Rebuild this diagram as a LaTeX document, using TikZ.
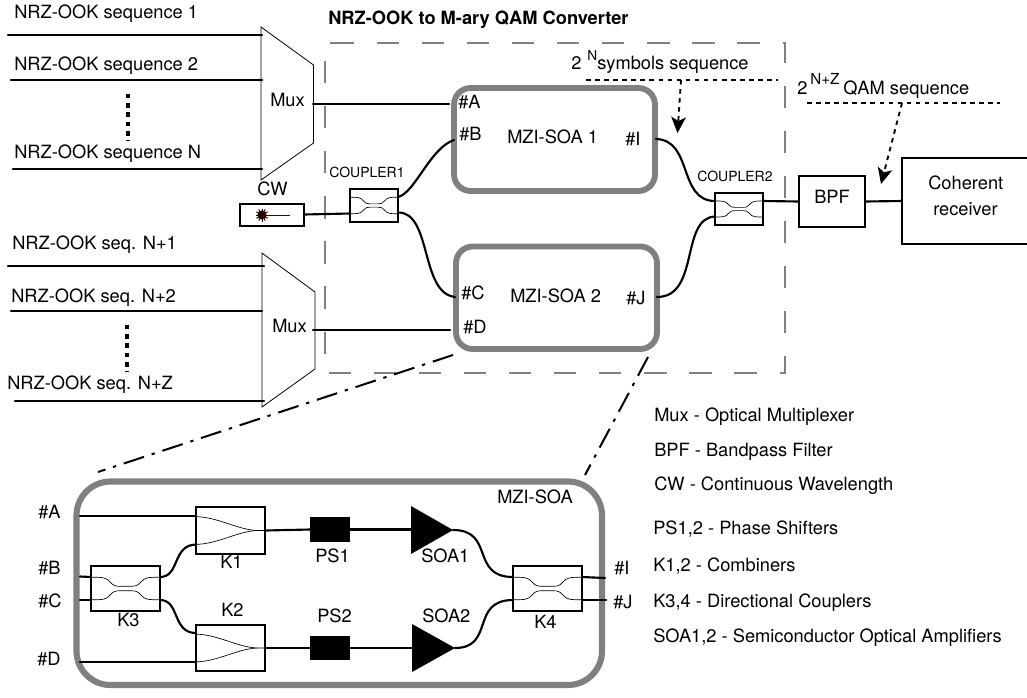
\documentclass[tikz,border=0pt]{standalone}
\usepackage{fontspec}
\setmainfont{TeX Gyre Heros}
\usetikzlibrary{arrows.meta}
\definecolor{frame}{gray}{0.5}
\newcommand{\fs}[1]{\fontsize{#1}{#1}\selectfont}
\newcommand{\dcoupler}[3]{%
  \begin{scope}[shift={(#1.center)},xscale=#2,yscale=#3,inner]
    \draw (-.5,-.25) .. controls (-.33,-.25) and (-.28,-.25) .. (-.22,-.14) .. controls (-.18,-.06) and (-.14,-.05) .. (-.08,-.05) -- (.08,-.05) .. controls (.14,-.05) and (.18,-.06) .. (.22,-.14) .. controls (.28,-.25) and (.33,-.25) .. (.5,-.25);
    \draw (-.5,.25) .. controls (-.33,.25) and (-.28,.25) .. (-.22,.14) .. controls (-.18,.06) and (-.14,.05) .. (-.08,.05) -- (.08,.05) .. controls (.14,.05) and (.18,.06) .. (.22,.14) .. controls (.28,.25) and (.33,.25) .. (.5,.25);
  \end{scope}}
\newcommand{\combiner}[1]{%
  \begin{scope}[shift={(#1.center)},xscale=69,yscale=46,inner]
    \draw (-.5,-.3) .. controls (-.2,-.3) and (.1,-.02) .. (.38,0) -- (.5,0);
    \draw (-.5,.3) .. controls (-.2,.3) and (.1,.02) .. (.38,0);
  \end{scope}}
\tikzset{
  x=0.75pt,y=-0.75pt,
  inner/.style={line width=0.5pt},
  fiber/.style={line width=1.6pt,line cap=round},
  boxn/.style={draw,line width=1.6pt,inner sep=0,outer sep=0,fill=white},
  soabox/.style={draw=frame,line width=4.4pt,rounded corners=12.5pt},
  mux/.style={draw=black,line width=0.6pt},
  lbl/.style={anchor=base west,inner sep=0,font=\fs{13.7}},
  small/.style={anchor=base west,inner sep=0,font=\fs{10.5}},
  ink/.style={fill=black,draw=none,inner sep=0,outer sep=0},
  note/.style={line width=1.4pt,dash pattern=on 3.4pt off 3.4pt},
  ddot/.style={line width=3pt,dash pattern=on 3.5pt off 3.5pt},
  ddash/.style={line width=1.5pt,dash pattern=on 16pt off 6pt on 2.5pt off 6pt},
}
\begin{document}
\begin{tikzpicture}
\useasboundingbox (0,0) rectangle (1027,697);
% dashed converter frame
\node[inner sep=0,outer sep=0,minimum width=460*0.75pt,minimum height=330*0.75pt] (conv) at (555,208) {};
\draw[draw=frame,line width=1.6pt,dash pattern=on 16.7pt off 17.12pt] ([xshift=6.6*0.75pt]conv.north west) -- (conv.north east) -- (conv.south east) -- (conv.south west) -- (conv.north west) -- ([xshift=6.6*0.75pt]conv.north west);
% muxes
\draw[mux] (261,27) coordinate (m1a) -- (313.5,65) -- (313.5,143) -- (261,180) coordinate (m1b) -- cycle;
\draw[mux] (262,253) coordinate (m2a) -- (315,292) -- (315,369) -- (262,407) coordinate (m2b) -- cycle;
\coordinate (m1o) at (313,104);
\coordinate (m2o) at (313,330);
% input coordinates
\foreach \n/\xa/\ya/\xb in {i1/8/35/262,i2/11/80/262,i3/13/169/262,i4/8/266/264,i5/11/311/262,i6/15/401/264}{
  \coordinate (\n a) at (\xa,\ya); \coordinate (\n b) at (\xb,\ya);
  \draw[fiber] (\n a) -- (\n b);
}
\coordinate (d1a) at (128,93.5); \coordinate (d1b) at (128,141);
\coordinate (d2a) at (127,324.5); \coordinate (d2b) at (127,372);
\draw[ddot] (d1a) -- (d1b);
\draw[ddot] (d2a) -- (d2b);
\node[lbl] (t1) at (14,18) {NRZ-OOK sequence 1};
\node[lbl] (t2) at (14,70) {NRZ-OOK sequence 2};
\node[lbl] (t3) at (14,158) {NRZ-OOK sequence N};
\node[lbl] (t4) at (12,249) {NRZ-OOK seq. N+1};
\node[lbl] (t5) at (11,302) {NRZ-OOK seq. N+2};
\node[lbl] (t6) at (7,389) {NRZ-OOK seq. N+Z};
\node[lbl] (mx1) at (270,106) {Mux};
\node[lbl] (mx2) at (272,332) {Mux};
% MZI blocks
\draw[soabox] (454,88) rectangle (655,191);
\draw[soabox] (456,246.5) rectangle (657,349);
\node[lbl] (sa) at (507,143) {MZI-SOA 1};
\node[lbl] (sb) at (510,302) {MZI-SOA 2};
\node[lbl] (pa) at (458,108) {\#A};
\node[lbl] (pb) at (459,140) {\#B};
\node[lbl] (pi) at (625,145) {\#I};
\node[lbl] (pc) at (461,299) {\#C};
\node[lbl] (pd) at (463,333) {\#D};
\node[lbl] (pj) at (626,304) {\#J};
\coordinate (ma) at (449,104); \coordinate (mb) at (454,140); \coordinate (mi) at (656,139);
\coordinate (mc) at (455,297); \coordinate (md) at (450,330); \coordinate (mj) at (657,297);
% couplers and CW
\node[boxn,minimum width=48*0.75pt,minimum height=33*0.75pt] (c1) at (374,205.5) {};
\node[boxn,minimum width=48*0.75pt,minimum height=32*0.75pt] (c2) at (739,209) {};
\dcoupler{c1}{48}{33}
\dcoupler{c2}{48}{32}
\node[small] (c1l) at (329,177) {COUPLER1};
\node[small] (c2l) at (697,181) {COUPLER2};
\node[boxn,minimum width=64*0.75pt,minimum height=22*0.75pt] (cw) at (272,215) {};
\node[lbl] (cwl) at (257,195) {CW};
\node[inner sep=0,text width=0pt] (laser) at (262,215) {};
\foreach \a in {0,30,...,330}{\draw[line width=0.7pt,black!85!red] (262,215) -- +(\a:6.5);}
\fill[black!85!red] (262,215) circle[radius=4.6];
\draw[line width=0.5pt,black!70!red] (laser.center) -- (290,215);
\coordinate (cwo) at (304,214.5); \coordinate (c1i) at (350,213.5);
\coordinate (c1a) at (398,197); \coordinate (c1b) at (398,212.5);
\coordinate (c2a) at (715,201); \coordinate (c2b) at (715,216.5);
\coordinate (c2o) at (763,201);
\draw[fiber] (cwo) -- (c1i);
\draw[fiber] (m1o) -- (ma);
\draw[fiber] (m2o) -- (md);
\draw[fiber] (c1a) .. controls (415,193) and (430,148) .. (mb);
\draw[fiber] (c1b) .. controls (432,212) and (420,293) .. (mc);
\draw[fiber] (mi) .. controls (693,140) and (678,201) .. (c2a);
\draw[fiber] (mj) .. controls (700,297) and (680,218) .. (c2b);
% output
\node[boxn,minimum width=66*0.75pt,minimum height=51*0.75pt] (bpf) at (832,201.5) {};
\node[lbl] (bpft) at (814,203) {BPF};
\node[boxn,minimum width=140*0.75pt,minimum height=86*0.75pt] (rx) at (972,201) {};
\node[lbl] (rxa) at (928,189) {Coherent};
\node[lbl] (rxb) at (933,215) {receiver};
\draw[fiber] (c2o) -- (bpf.west);
\draw[fiber] (bpf.east) -- (rx.west);
% annotations
\node[lbl] (n1) at (571,69) {2};
\node[anchor=base west,inner sep=0,font=\fs{10.3}] (n1s) at (587,60) {N};
\node[lbl] (n1t) at (597,69) {symbols sequence};
\node[lbl] (n2) at (797,94) {2};
\node[anchor=base west,inner sep=0,font=\fs{11.4}] (n2s) at (810,84) {N+Z};
\node[lbl] (n2t) at (843,94) {QAM sequence};
\coordinate (u1a) at (586,80); \coordinate (u1b) at (778,80); \coordinate (u1m) at (681,80); \coordinate (u1t) at (677.5,133);
\coordinate (u2a) at (807,103); \coordinate (u2b) at (1000,103); \coordinate (u2m) at (902,103); \coordinate (u2t) at (881,184);
\draw[note] (u1a) -- (u1b);
\draw[note] (u2a) -- (u2b);
\draw[note,-{Stealth[length=12pt,width=11pt,inset=3pt]}] (u1m) -- (u1t);
\draw[note,-{Stealth[length=12pt,width=11pt,inset=3pt]}] (u2m) -- (u2t);
\node[anchor=base west,inner sep=0,font=\bfseries\fs{13.7}] (title) at (328,24) {NRZ-OOK to M-ary QAM Converter};
% zoom lines
\coordinate (z1a) at (453,355); \coordinate (z1b) at (98,472);
\coordinate (z2a) at (648,357); \coordinate (z2b) at (585,475);
\draw[ddash] (z1a) -- (z1b);
\draw[ddash] (z2a) -- (z2b);
% detailed MZI-SOA
\draw[draw=frame,line width=4.6pt,rounded corners=25.5pt] (76.5,481.5) rectangle (602,685);
\node[lbl] (mz) at (497,503) {MZI-SOA};
\node[boxn,minimum width=69*0.75pt,minimum height=47*0.75pt] (k1) at (230.5,530.5) {};
\node[boxn,minimum width=69*0.75pt,minimum height=46*0.75pt] (k2) at (230.5,648) {};
\node[boxn,minimum width=69*0.75pt,minimum height=45*0.75pt] (k3) at (125.5,588.5) {};
\node[boxn,minimum width=69*0.75pt,minimum height=45*0.75pt] (k4) at (547.5,588.5) {};
\combiner{k1}
\combiner{k2}
\dcoupler{k3}{69}{45}
\dcoupler{k4}{69}{45}
\node[ink,minimum width=40*0.75pt,minimum height=25*0.75pt] (ps1) at (330,529.5) {};
\node[ink,minimum width=40*0.75pt,minimum height=24*0.75pt] (ps2) at (330,648) {};
\draw[fill=black,draw=none] (411,506) coordinate (s1a) -- (453,530) coordinate (s1o) -- (411,554) -- cycle;
\draw[fill=black,draw=none] (412,624) coordinate (s2a) -- (455,648) coordinate (s2o) -- (412,672) -- cycle;
\node[lbl] (lk1) at (220,568) {K1};
\node[lbl] (lk2) at (221,616) {K2};
\node[lbl] (lk3) at (117,626) {K3};
\node[lbl] (lk4) at (534,628) {K4};
\node[lbl] (lp1) at (315,562) {PS1};
\node[lbl] (lp2) at (317,622) {PS2};
\node[lbl] (ls1) at (421,562) {SOA1};
\node[lbl] (ls2) at (422,622) {SOA2};
\node[lbl] (qa) at (38,518) {\#A};
\node[lbl] (qb) at (38,574) {\#B};
\node[lbl] (qc) at (38,607) {\#C};
\node[lbl] (qd) at (37,665) {\#D};
\node[lbl] (qi) at (614,574) {\#I};
\node[lbl] (qj) at (613,608) {\#J};
\coordinate (ra) at (80,516); \coordinate (rb) at (80,576.5); \coordinate (rc) at (80,600); \coordinate (rd) at (80,662);
\coordinate (k1a) at (196,516); \coordinate (k1b) at (196,544.5); \coordinate (k2a) at (196,633); \coordinate (k2b) at (196,662);
\coordinate (k3a) at (91,577); \coordinate (k3b) at (91,600); \coordinate (k3c) at (160,577); \coordinate (k3d) at (160,600);
\coordinate (k4a) at (513,577); \coordinate (k4b) at (513,600); \coordinate (k4c) at (582,577); \coordinate (k4d) at (582,600);
\coordinate (re) at (605,578); \coordinate (rf) at (606,600);
\draw[fiber] (ra) -- (k1a);
\draw[fiber] (rd) -- (k2b);
\draw[fiber] (rb) -- (k3a);
\draw[fiber] (rc) -- (k3b);
\draw[fiber] (k3c) .. controls (180,577) and (172,545) .. (k1b);
\draw[fiber] (k3d) .. controls (180,600) and (172,633) .. (k2a);
\draw[fiber] (k1.east) -- (ps1.west);
\draw[fiber] (k2.east) -- (ps2.west);
\draw[fiber] (ps1.east) -- (s1a|-ps1.east);
\draw[fiber] (ps2.east) -- (s2a|-ps2.east);
\draw[fiber] (s1o) .. controls (495,530) and (470,577) .. (k4a);
\draw[fiber] (s2o) .. controls (495,648) and (470,600) .. (k4b);
\draw[fiber] (k4c) -- (re);
\draw[fiber] (k4d) -- (rf);
% legend
\node[lbl] (l1) at (654,421) {Mux - Optical Multiplexer};
\node[lbl] (l2) at (654,456) {BPF - Bandpass Filter};
\node[lbl] (l3) at (654,490) {CW - Continuous Wavelength};
\node[lbl] (l4) at (653,534) {PS1,2 - Phase Shifters};
\node[lbl] (l5) at (653,571) {K1,2 - Combiners};
\node[lbl] (l6) at (653,607) {K3,4 - Directional Couplers};
\node[lbl] (l7) at (653,642) {SOA1,2 - Semiconductor Optical Amplifiers};
\end{tikzpicture}
\end{document}
